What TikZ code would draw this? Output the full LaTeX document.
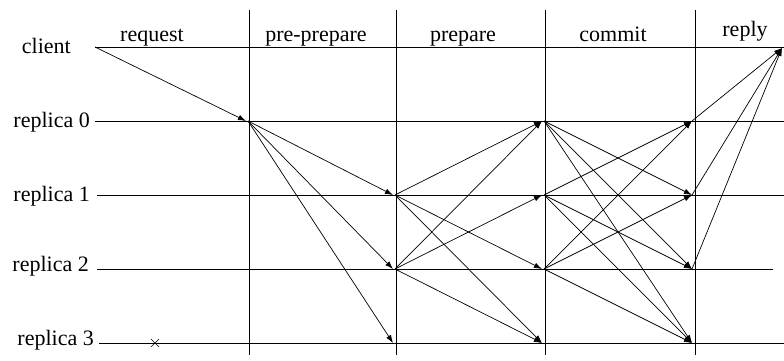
\documentclass[tikz,border=0pt]{standalone}
\usepackage{fontspec}
\setmainfont{Liberation Serif}
\usetikzlibrary{arrows.meta}
\begin{document}
\begin{tikzpicture}[x=1pt,y=-1pt,
  lbl/.style={font=\fontsize{22}{26}\selectfont, inner sep=0pt},
  msg/.style={-{Latex[length=8pt,width=5.5pt]}, line width=0.7pt},
  rule/.style={line width=0.7pt}]
\useasboundingbox (0,0) rectangle (784,361);
% time lines
\coordinate (cl) at (95,47);   \coordinate (cr) at (784,47);
\coordinate (l0) at (95,121);  \coordinate (e0) at (784,121);
\coordinate (l1) at (97,195);  \coordinate (e1) at (784,195);
\coordinate (l2) at (97,269);  \coordinate (e2) at (773,269);
\coordinate (l3) at (99,343);  \coordinate (e3) at (784,343);
\draw[rule] (cl) -- (cr);
\foreach \r in {0,1,2,3} {\draw[rule] (l\r) -- (e\r);}
% phase separators
\foreach \k/\x in {1/249,2/396,3/545,4/695} {
  \coordinate (vt\k) at (\x,10); \coordinate (vb\k) at (\x,355);
  \draw[rule] (vt\k) -- (vb\k);
  \foreach \r/\y in {0/121,1/195,2/269,3/343} {
    \coordinate (t\r\k) at (\x-3,\y);
    \coordinate (s\r\k) at (\x-1,\y);
  }
}
% labels
\node[lbl, anchor=base east] (nc) at (71,53) {client};
\node[lbl, anchor=base east] (n0) at (90,127.5) {replica 0};
\node[lbl, anchor=base east] (n1) at (90,201.5) {replica 1};
\node[lbl, anchor=base east] (n2) at (89,271.7) {replica 2};
\node[lbl, anchor=base east] (n3) at (94,345) {replica 3};
\node[lbl, anchor=base] (p1) at (152,42) {request};
\node[lbl, anchor=base] (p2) at (316,42) {pre-prepare};
\node[lbl, anchor=base] (p3) at (463,42) {prepare};
\node[lbl, anchor=base] (p4) at (613,42) {commit};
\node[lbl, anchor=base] (p5) at (745,37) {reply};
% request
\coordinate (cR) at (782,48);
\draw[msg] (cl) -- (t01);
% pre-prepare
\foreach \d in {1,2,3} {\draw[msg] (s01) -- (t\d2);}
% prepare
\foreach \d in {0,2,3} {\draw[msg] (s12) -- (t\d3);}
\foreach \d in {0,1,3} {\draw[msg] (s22) -- (t\d3);}
% commit
\foreach \d in {1,2,3} {\draw[msg] (s03) -- (t\d4);}
\foreach \d in {0,2,3} {\draw[msg] (s13) -- (t\d4);}
\foreach \d in {0,1,3} {\draw[msg] (s23) -- (t\d4);}
% reply
\foreach \s in {0,1,2} {\draw[msg] (t\s4) -- (cR);}
% faulty replica
\coordinate (xa) at (151,339); \coordinate (xb) at (159,347);
\coordinate (xc) at (151,347); \coordinate (xd) at (159,339);
\draw[line width=0.6pt] (xa) -- (xb) (xc) -- (xd);
\end{tikzpicture}
\end{document}
